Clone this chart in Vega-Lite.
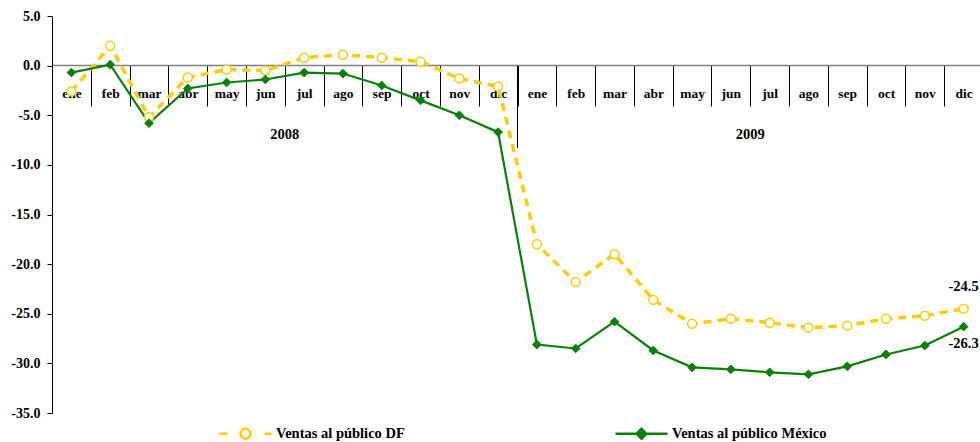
{
  "$schema": "https://vega.github.io/schema/vega-lite/v6.json",
  "autosize": {"type": "none"},
  "padding": {"left": 52, "top": 16, "right": 0, "bottom": 29},
  "width": 931,
  "height": 397,
  "background": "white",
  "config": {
    "view": {"stroke": null},
    "font": "Liberation Serif",
    "locale": {"number": {"decimal": ".", "thousands": ",", "grouping": [3], "currency": ["$", ""], "minus": "-"}}
  },
  "title": {
    "text": "(Variación porcentual anual acumulada, %)",
    "font": "Liberation Serif",
    "fontSize": 15,
    "fontWeight": "bold",
    "color": "#000",
    "offset": 12,
    "dx": -22
  },
  "data": {"values": [
      {"periodo": "2008-01", "anio": "2008", "serie": "Ventas al público DF", "valor": -2.6},
      {"periodo": "2008-02", "anio": "2008", "serie": "Ventas al público DF", "valor": 2.0},
      {"periodo": "2008-03", "anio": "2008", "serie": "Ventas al público DF", "valor": -5.2},
      {"periodo": "2008-04", "anio": "2008", "serie": "Ventas al público DF", "valor": -1.2},
      {"periodo": "2008-05", "anio": "2008", "serie": "Ventas al público DF", "valor": -0.4},
      {"periodo": "2008-06", "anio": "2008", "serie": "Ventas al público DF", "valor": -0.5},
      {"periodo": "2008-07", "anio": "2008", "serie": "Ventas al público DF", "valor": 0.8},
      {"periodo": "2008-08", "anio": "2008", "serie": "Ventas al público DF", "valor": 1.1},
      {"periodo": "2008-09", "anio": "2008", "serie": "Ventas al público DF", "valor": 0.8},
      {"periodo": "2008-10", "anio": "2008", "serie": "Ventas al público DF", "valor": 0.4},
      {"periodo": "2008-11", "anio": "2008", "serie": "Ventas al público DF", "valor": -1.3},
      {"periodo": "2008-12", "anio": "2008", "serie": "Ventas al público DF", "valor": -2.1},
      {"periodo": "2009-01", "anio": "2009", "serie": "Ventas al público DF", "valor": -18.0},
      {"periodo": "2009-02", "anio": "2009", "serie": "Ventas al público DF", "valor": -21.8},
      {"periodo": "2009-03", "anio": "2009", "serie": "Ventas al público DF", "valor": -19.0},
      {"periodo": "2009-04", "anio": "2009", "serie": "Ventas al público DF", "valor": -23.6},
      {"periodo": "2009-05", "anio": "2009", "serie": "Ventas al público DF", "valor": -26.0},
      {"periodo": "2009-06", "anio": "2009", "serie": "Ventas al público DF", "valor": -25.5},
      {"periodo": "2009-07", "anio": "2009", "serie": "Ventas al público DF", "valor": -25.9},
      {"periodo": "2009-08", "anio": "2009", "serie": "Ventas al público DF", "valor": -26.4},
      {"periodo": "2009-09", "anio": "2009", "serie": "Ventas al público DF", "valor": -26.2},
      {"periodo": "2009-10", "anio": "2009", "serie": "Ventas al público DF", "valor": -25.5},
      {"periodo": "2009-11", "anio": "2009", "serie": "Ventas al público DF", "valor": -25.2},
      {"periodo": "2009-12", "anio": "2009", "serie": "Ventas al público DF", "valor": -24.5},
      {"periodo": "2008-01", "anio": "2008", "serie": "Ventas al público México", "valor": -0.7},
      {"periodo": "2008-02", "anio": "2008", "serie": "Ventas al público México", "valor": 0.1},
      {"periodo": "2008-03", "anio": "2008", "serie": "Ventas al público México", "valor": -5.8},
      {"periodo": "2008-04", "anio": "2008", "serie": "Ventas al público México", "valor": -2.3},
      {"periodo": "2008-05", "anio": "2008", "serie": "Ventas al público México", "valor": -1.7},
      {"periodo": "2008-06", "anio": "2008", "serie": "Ventas al público México", "valor": -1.4},
      {"periodo": "2008-07", "anio": "2008", "serie": "Ventas al público México", "valor": -0.7},
      {"periodo": "2008-08", "anio": "2008", "serie": "Ventas al público México", "valor": -0.8},
      {"periodo": "2008-09", "anio": "2008", "serie": "Ventas al público México", "valor": -2.0},
      {"periodo": "2008-10", "anio": "2008", "serie": "Ventas al público México", "valor": -3.5},
      {"periodo": "2008-11", "anio": "2008", "serie": "Ventas al público México", "valor": -5.0},
      {"periodo": "2008-12", "anio": "2008", "serie": "Ventas al público México", "valor": -6.7},
      {"periodo": "2009-01", "anio": "2009", "serie": "Ventas al público México", "valor": -28.1},
      {"periodo": "2009-02", "anio": "2009", "serie": "Ventas al público México", "valor": -28.5},
      {"periodo": "2009-03", "anio": "2009", "serie": "Ventas al público México", "valor": -25.8},
      {"periodo": "2009-04", "anio": "2009", "serie": "Ventas al público México", "valor": -28.7},
      {"periodo": "2009-05", "anio": "2009", "serie": "Ventas al público México", "valor": -30.4},
      {"periodo": "2009-06", "anio": "2009", "serie": "Ventas al público México", "valor": -30.6},
      {"periodo": "2009-07", "anio": "2009", "serie": "Ventas al público México", "valor": -30.9},
      {"periodo": "2009-08", "anio": "2009", "serie": "Ventas al público México", "valor": -31.1},
      {"periodo": "2009-09", "anio": "2009", "serie": "Ventas al público México", "valor": -30.3},
      {"periodo": "2009-10", "anio": "2009", "serie": "Ventas al público México", "valor": -29.1},
      {"periodo": "2009-11", "anio": "2009", "serie": "Ventas al público México", "valor": -28.2},
      {"periodo": "2009-12", "anio": "2009", "serie": "Ventas al público México", "valor": -26.3}
  ]},
  "encoding": {
    "x": {
      "field": "periodo",
      "type": "ordinal",
      "scale": {"paddingInner": 0, "paddingOuter": 0},
      "axis": {
        "title": null,
        "orient": "bottom",
        "offset": -348,
        "domainColor": "#808080",
        "domainWidth": 1.5,
        "tickBand": "extent",
        "tickSize": 41,
        "tickColor": "#000",
        "tickWidth": 1,
        "labelAngle": 0,
        "labelPadding": -20,
        "labelFont": "Liberation Serif",
        "labelFontSize": 13.5,
        "labelFontWeight": "bold",
        "labelColor": "#000",
        "labelExpr": "['ene','feb','mar','abr','may','jun','jul','ago','sep','oct','nov','dic'][toNumber(substring(datum.value,5,7))-1]"
      }
    },
    "y": {
      "field": "valor",
      "type": "quantitative",
      "scale": {"domain": [-35, 5], "nice": false, "zero": false},
      "axis": {
        "title": null,
        "values": [-35, -30, -25, -20, -15, -10, -5, 0, 5],
        "format": ".1f",
        "grid": false,
        "domainColor": "#000",
        "domainWidth": 1,
        "tickColor": "#000",
        "tickSize": 5,
        "labelPadding": 7,
        "labelFont": "Liberation Serif",
        "labelFontSize": 14,
        "labelFontWeight": "bold",
        "labelColor": "#000"
      }
    }
  },
  "layer": [
    {
      "transform": [{"filter": "datum.serie === 'Ventas al público DF' && datum.periodo === '2009-01'"}],
      "mark": {"type": "rule", "color": "#000", "strokeWidth": 1},
      "encoding": {
        "x": {"field": "periodo", "type": "ordinal", "bandPosition": 0},
        "y": {"datum": 0},
        "y2": {"datum": -8.3}
      }
    },
    {
      "transform": [{"filter": "datum.serie === 'Ventas al público DF' && (datum.periodo === '2008-07' || datum.periodo === '2009-07')"}],
      "mark": {"type": "text", "font": "Liberation Serif", "fontSize": 14.5, "fontWeight": "bold", "color": "#000", "baseline": "middle"},
      "encoding": {
        "x": {"field": "periodo", "type": "ordinal", "bandPosition": 0},
        "y": {"datum": -7.0},
        "text": {"field": "anio", "type": "nominal"}
      }
    },
    {
      "transform": [{"filter": "datum.serie === 'Ventas al público DF'"}],
      "mark": {"type": "line", "strokeDash": [8, 6], "strokeWidth": 3.5},
      "encoding": {
        "color": {
          "field": "serie",
          "type": "nominal",
          "scale": {"domain": ["Ventas al público DF", "Ventas al público México"], "range": ["#FFCC00", "#0A800A"]},
          "legend": {
            "orient": "none",
            "legendX": 166,
            "legendY": 390,
            "direction": "horizontal",
            "columns": 2,
            "columnPadding": 205,
            "title": null,
            "symbolSize": 2704,
            "symbolType": "M-1,0L1,0",
            "labelOffset": 3,
            "labelFont": "Liberation Serif",
            "labelFontSize": 14.5,
            "labelFontWeight": "bold",
            "labelColor": "#000",
            "labelLimit": 0,
            "encode": {
              "symbols": {
                "update": {
                  "shape": {"signal": "datum.value === 'Ventas al público DF' ? 'M-1,0L-0.69,0M0.19,0A0.19,0.19 0 1,1 -0.19,0A0.19,0.19 0 1,1 0.19,0M0.73,0L1,0' : 'M-1,0L1,0M0,-0.19L0.19,0L0,0.19L-0.19,0Z'"},
                  "fill": {"signal": "datum.value === 'Ventas al público DF' ? 'transparent' : '#0A800A'"},
                  "stroke": {"signal": "datum.value === 'Ventas al público DF' ? '#FFCC00' : '#0A800A'"},
                  "strokeWidth": {"value": 2.5},
                  "strokeDash": {"value": []},
                  "opacity": {"value": 1}
                }
              }
            }
          }
        }
      }
    },
    {
      "transform": [{"filter": "datum.serie === 'Ventas al público México'"}],
      "mark": {"type": "line", "strokeWidth": 2.2},
      "encoding": {
        "color": {"field": "serie", "type": "nominal"}
      }
    },
    {
      "transform": [{"filter": "datum.serie === 'Ventas al público DF'"}],
      "mark": {"type": "point", "shape": "circle", "size": 80, "fill": "white", "stroke": "#FFCC00", "strokeWidth": 1.5, "opacity": 1, "filled": true}
    },
    {
      "transform": [{"filter": "datum.serie === 'Ventas al público México'"}],
      "mark": {"type": "point", "shape": "diamond", "size": 75, "fill": "#0A800A", "stroke": "#0A800A", "strokeWidth": 1, "opacity": 1, "filled": true}
    },
    {
      "transform": [{"filter": "datum.serie === 'Ventas al público DF' && datum.periodo === '2009-12'"}],
      "mark": {"type": "text", "dy": -22, "font": "Liberation Serif", "fontSize": 14.5, "fontWeight": "bold", "color": "#000"},
      "encoding": {"text": {"field": "valor", "type": "quantitative", "format": ".1f"}}
    },
    {
      "transform": [{"filter": "datum.serie === 'Ventas al público México' && datum.periodo === '2009-12'"}],
      "mark": {"type": "text", "dy": 17, "font": "Liberation Serif", "fontSize": 14.5, "fontWeight": "bold", "color": "#000"},
      "encoding": {"text": {"field": "valor", "type": "quantitative", "format": ".1f"}}
    }
  ]
}
